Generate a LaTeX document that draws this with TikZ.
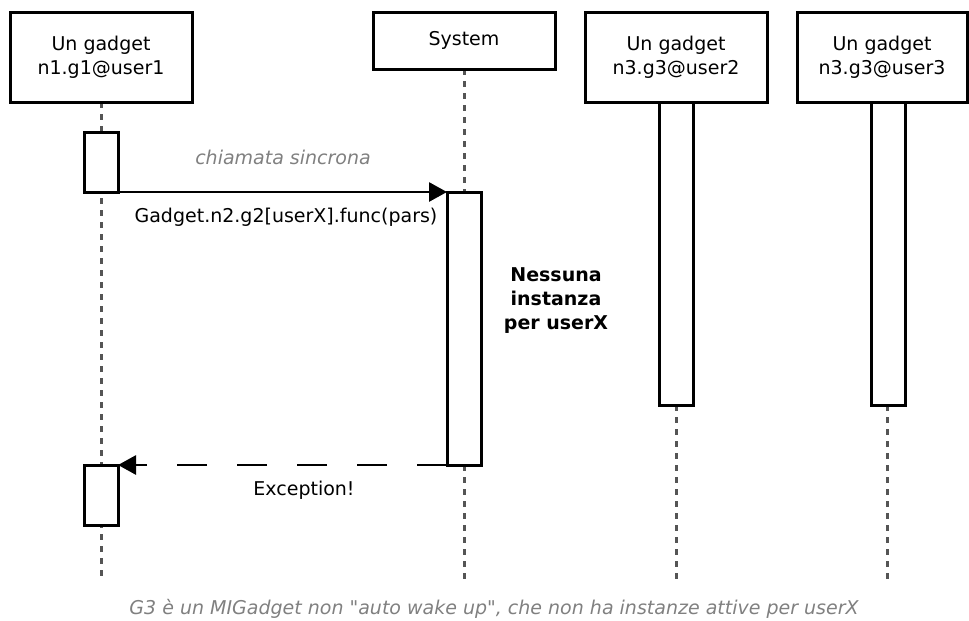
\documentclass[tikz,border=0pt]{standalone}
\usepackage{fontspec}
\setmainfont{DejaVu Sans}[Ligatures=TeXOff]
\usetikzlibrary{arrows.meta}
\definecolor{lifegray}{HTML}{555555}
\definecolor{notegray}{HTML}{808080}
\tikzset{
  head/.style={draw, line width=3pt, fill=white, inner sep=0pt, outer sep=0pt,
    align=center, minimum width=182pt, font=\fontsize{19}{24}\selectfont},
  actbox/.style={draw, line width=3pt, fill=white, inner sep=0pt, outer sep=0pt,
    minimum width=34pt},
  lifeline/.style={lifegray, line width=3pt, dash pattern=on 6pt off 6pt},
  msg/.style={line width=2.8pt, -{Triangle[length=18pt,width=19pt]}},
  reply/.style={line width=2.8pt, -{Triangle[length=18pt,width=19pt]},
    dash pattern=on 30pt off 30pt, dash phase=0pt},
  lbl/.style={inner sep=0pt, font=\fontsize{19}{24}\selectfont},
  note/.style={lbl, notegray, font=\fontsize{19}{24}\selectfont\itshape},
}
\begin{document}
\begin{tikzpicture}[x=1pt, y=-1pt]
\useasboundingbox (0,0) rectangle (969,621);

% participant coordinates (ends of the lifelines)
\coordinate (l1top) at (101,102);  \coordinate (l1bot) at (101,580);
\coordinate (l2top) at (464,69);   \coordinate (l2bot) at (464,583);
\coordinate (l3top) at (676,405);  \coordinate (l3bot) at (676,580);
\coordinate (l4top) at (887,405);  \coordinate (l4bot) at (887,580);

% lifelines
\draw[lifeline] (l1top) -- (l1bot);
\draw[lifeline] (l2top) -- (l2bot);
\draw[lifeline] (l3top) -- (l3bot);
\draw[lifeline] (l4top) -- (l4bot);

% participant heads
\node[head, minimum height=90pt] (h1) at (101,57) {Un gadget\\n1.g1@user1};
\node[head, minimum height=57pt] (h2) at (464,40.5) {System};
\node[head, minimum height=90pt] (h3) at (676,57) {Un gadget\\n3.g3@user2};
\node[head, minimum height=90pt, minimum width=170pt] (h4) at (882,57) {Un gadget\\n3.g3@user3};

% activation bars
\node[actbox, minimum height=60pt]  (a1) at (101,162) {};
\node[actbox, minimum height=273pt] (a2) at (464,328.5) {};
\node[actbox, minimum height=303pt] (a3) at (676,253.5) {};
\node[actbox, minimum height=303pt] (a4) at (888,253.5) {};
\node[actbox, minimum height=60pt]  (a5) at (101,495) {};

% messages
\draw[msg] (a1.south east) -- (a2.north west);
\draw[reply] (a2.south west) -- (a5.north east);

% labels
\node[note] (t1) at (283,157) {chiamata sincrona};
\node[lbl] (t2) at (286,217) {Gadget.n2.g2[userX].func(pars)};
\node[lbl] (t3) at (304,490) {Exception!};
\node[lbl, align=center, font=\fontsize{19}{24}\bfseries] (t4) at (556,301)
  {Nessuna\\instanza\\per userX};
\node[note] (t5) at (494,609)
  {G3 è un MIGadget non "auto wake up", che non ha instanze attive per userX};
\end{tikzpicture}
\end{document}
